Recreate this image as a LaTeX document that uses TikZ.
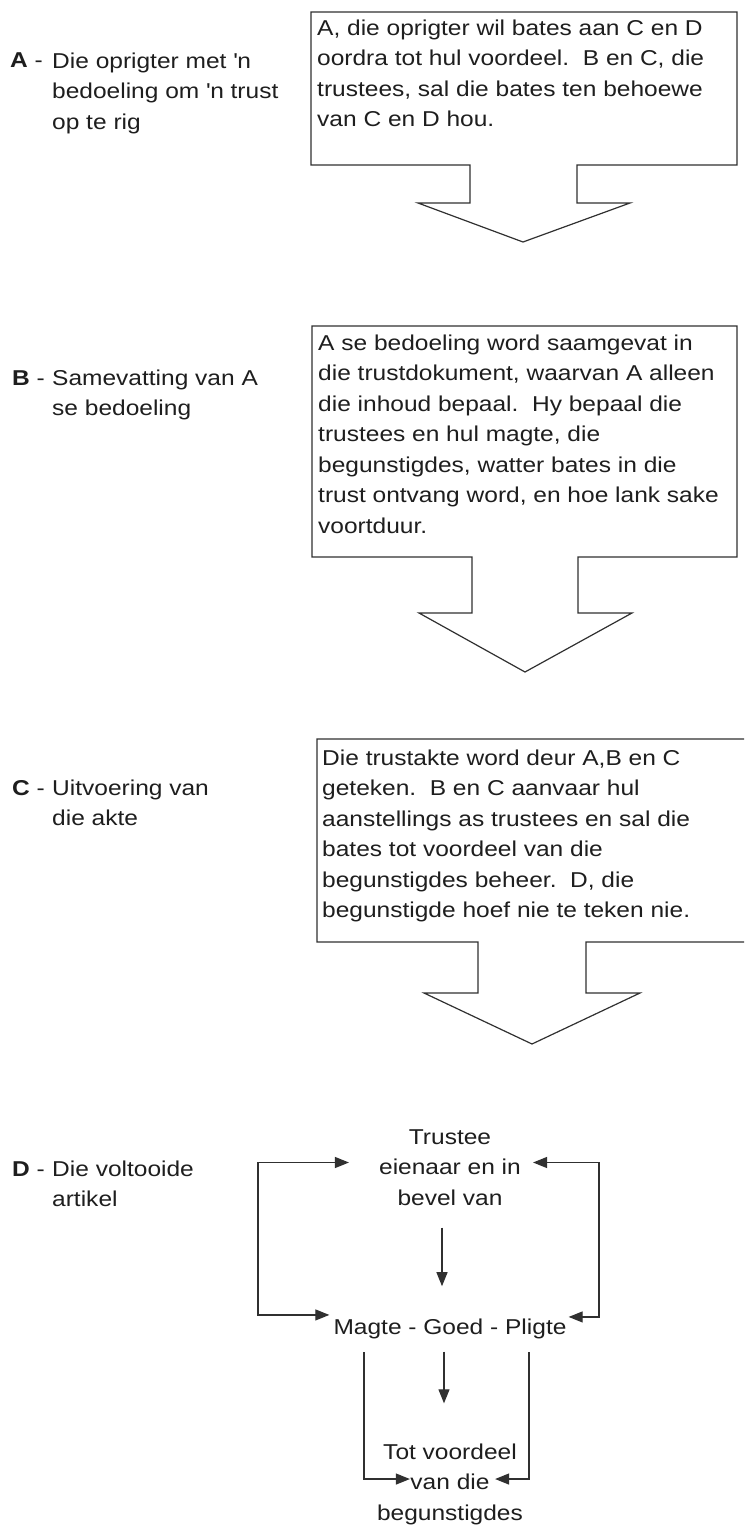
\documentclass[tikz,border=0pt]{standalone}
\usepackage{fontspec}
\setmainfont{Liberation Sans}[FakeStretch=1.14]
\usepackage{tikz}
\usetikzlibrary{arrows.meta,positioning}
\definecolor{Ink}{HTML}{1E1E1E}
\definecolor{Rule}{HTML}{303030}
\newcommand{\gap}{\ \ }
\newcommand{\apo}{\textquotesingle}

\begin{document}
\begin{tikzpicture}[
  x=1pt,y=-1pt,
  every node/.style={font=\fontsize{21.5}{30.5}\selectfont,text=Ink,inner sep=0pt},
  keyletter/.style={anchor=base west},
  sidetext/.style={anchor=north west,align=left},
  boxtext/.style={anchor=north west,align=left},
  flowtext/.style={align=center},
  callout/.style={draw=Rule,line width=1.2pt,line join=miter},
  tip/.style={Triangle[length=14pt,width=11pt]},
  arr/.style={draw=Rule,line width=1.2pt,-{Triangle[length=14pt,width=11pt]}},
  twoarr/.style={draw=Rule,line width=1.2pt,{Triangle[length=14pt,width=11pt]}-{Triangle[length=14pt,width=11pt]}}
]
\useasboundingbox (0,0) rectangle (744,1525);
\fill[white] (0,0) rectangle (744,1525);
\clip (0,0) rectangle (744,1525);

\node[keyletter] (keyA) at (10,68) {\textbf{A} -};
\node[sidetext] (lblA) at (52,52.3) {Die oprigter met \apo n\\bedoeling om \apo n trust\\op te rig};
\node[keyletter] (keyB) at (12,385) {\textbf{B} -};
\node[sidetext] (lblB) at (52,369.3) {Samevatting van A\\se bedoeling};
\node[keyletter] (keyC) at (12,795) {\textbf{C} -};
\node[sidetext] (lblC) at (52,779.3) {Uitvoering van\\die akte};
\node[keyletter] (keyD) at (12,1176) {\textbf{D} -};
\node[sidetext] (lblD) at (52,1160.3) {Die voltooide\\artikel};

\draw[callout] (311,12) -- (737,12) -- (737,165) -- (577,165) -- (577,203) -- (630,203)
  -- (523,242) -- (418,203) -- (470,203) -- (470,165) -- (311,165) -- cycle;
\node[boxtext] (txtA) at (317,19.3) {A, die oprigter wil bates aan C en D\\oordra tot hul voordeel.\gap B en C, die\\trustees, sal die bates ten behoewe\\van C en D hou.};

\draw[callout] (312,326) -- (737,326) -- (737,557) -- (578,557) -- (578,613) -- (632,613)
  -- (525,672) -- (419,613) -- (472,613) -- (472,557) -- (312,557) -- cycle;
\node[boxtext] (txtB) at (318,334.3) {A se bedoeling word saamgevat in\\die trustdokument, waarvan A alleen\\die inhoud bepaal.\gap Hy bepaal die\\trustees en hul magte, die\\begunstigdes, watter bates in die\\trust ontvang word, en hoe lank sake\\voortduur.};

\draw[callout] (317,739) -- (770,739) -- (770,942) -- (586,942) -- (586,993) -- (640,993)
  -- (532,1044) -- (424,993) -- (478,993) -- (478,942) -- (317,942) -- cycle;
\node[boxtext] (txtC) at (322,749.3) {Die trustakte word deur A,B en C\\geteken.\gap B en C aanvaar hul\\aanstellings as trustees en sal die\\bates tot voordeel van die\\begunstigdes beheer.\gap D, die\\begunstigde hoef nie te teken nie.};

\node[flowtext,anchor=north] (trustee) at (450,1129.3) {Trustee\\eienaar en in\\bevel van};
\node[flowtext,anchor=base] (magte) at (450,1334) {Magte - Goed - Pligte};
\node[flowtext,anchor=north] (voordeel) at (450,1443.3) {Tot voordeel\\van die\\begunstigdes};

\coordinate (lcol) at (258,1240);
\coordinate (rcol) at (599,1240);
\coordinate (ml) at (364,1352);
\coordinate (mr) at (529,1352);

\draw[twoarr] ([xshift=-30pt,yshift=5pt]trustee.west) -| (lcol) |- ([xshift=-4pt,yshift=13.5pt]magte.west);
\draw[twoarr] ([xshift=12pt,yshift=5pt]trustee.east) -| (rcol) |- ([xshift=2pt,yshift=11.5pt]magte.east);
\draw[arr] ([xshift=-8pt,yshift=-22pt]trustee.south) -- ([xshift=-8pt,yshift=32pt]magte.north);
\draw[arr] ([xshift=-6pt,yshift=-13pt]magte.south) -- ([xshift=-6pt,yshift=40pt]voordeel.north);
\draw[arr] (ml) |- ([xshift=33pt,yshift=5pt]voordeel.west);
\draw[arr] (mr) |- ([xshift=-28pt,yshift=5pt]voordeel.east);
\end{tikzpicture}
\end{document}
